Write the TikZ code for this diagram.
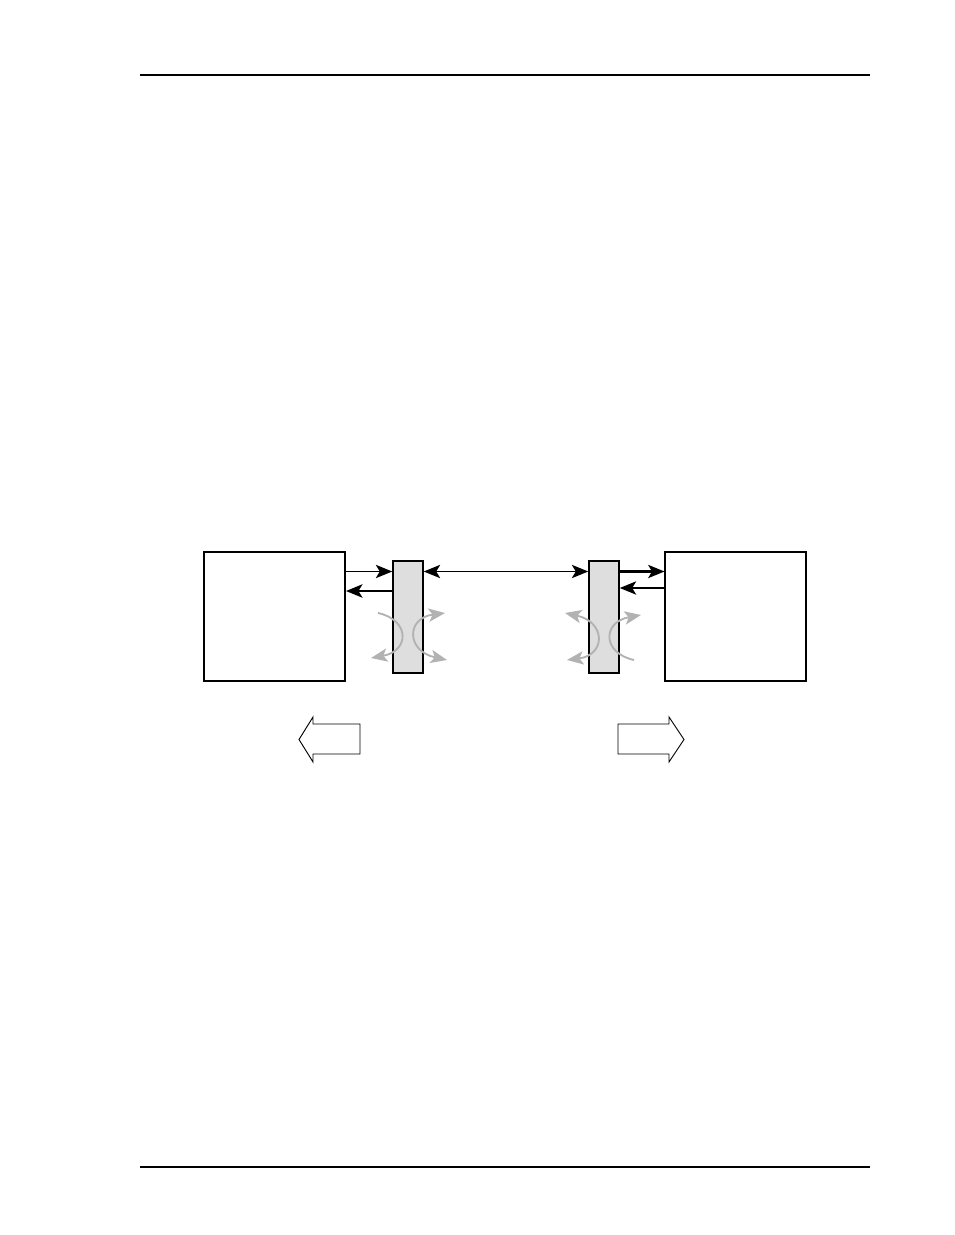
\documentclass[tikz,border=0pt]{standalone}
\usepackage{tikz, xcolor}
\usetikzlibrary{shapes,arrows.meta}
\definecolor{bargray}{RGB}{222,222,222}
\definecolor{arcgray}{RGB}{178,178,178}

\begin{document}
\begin{tikzpicture}[x=0.6414pt, y=-0.6414pt, >={Stealth[length=10.5pt, width=8.5pt, inset=2.5pt]}]
\tikzstyle{hostl}=[rectangle, draw, line width=1.3pt, minimum width=90.4pt, minimum height=82.7pt, inner sep=0pt]
\tikzstyle{hostr}=[rectangle, draw, line width=0.7pt, minimum width=90.4pt, minimum height=82.7pt, inner sep=0pt]
\tikzstyle{portbar}=[rectangle, draw, fill=bargray, line width=1pt, minimum width=19.2pt, minimum height=71.8pt, inner sep=0pt]
\tikzstyle{drawstyle}=[line width=1.1pt, ->]
\tikzstyle{turnstyle}=[draw=arcgray, line width=1.2pt]
\tikzstyle{bigarrow}=[draw, fill=white, line width=0.6pt, line join=miter]

\useasboundingbox (0,0) rectangle (954,1235);
% page rules
\draw[line width=1.6pt] (140,75) -- (870,75);
\draw[line width=0.7pt] (140,1167) -- (870,1167);

\node[hostl] (G0) at (274.5,616.5) {};
\node[portbar] (P0) at (408,617) {};
\node[portbar] (P1) at (604,617) {};
\node[hostr] (G1) at (735.5,616.5) {};

\coordinate (ya) at (0,571.5);
\coordinate (yb) at (0,591);
\coordinate (yc) at (0,588);

\draw[drawstyle] (G0.east |- ya) -- (P0.west |- ya);
\draw[drawstyle, line width=1.7pt] (P0.west |- yb) -- (G0.east |- yb);
\draw[drawstyle, <->] (P0.east |- ya) -- (P1.west |- ya);
\draw[drawstyle, line width=1.3pt] (P1.east |- ya) -- (G1.west |- ya);
\draw[drawstyle, line width=1.3pt] (G1.west |- yc) -- (P1.east |- yc);

% turning arrows at the bars
\draw[turnstyle, ->] (378,613) .. controls (410,620) and (410,651) .. (371,658);
\draw[turnstyle, <->] (445,613) .. controls (406,618) and (406,651) .. (447,660);
\draw[turnstyle, ->] (634,660) .. controls (602,653) and (602,622) .. (641,615);
\draw[turnstyle, <->] (567,660) .. controls (606,655) and (606,622) .. (565,613);

% hollow direction arrows
\draw[bigarrow] (360,724) -- (313,724) -- (313,717) -- (299,739.5) -- (313,762) -- (313,754) -- (360,754) -- cycle;
\draw[bigarrow] (618,724) -- (669,724) -- (669,717) -- (684,739.5) -- (669,762) -- (669,754) -- (618,754) -- cycle;
\end{tikzpicture}
\end{document}
